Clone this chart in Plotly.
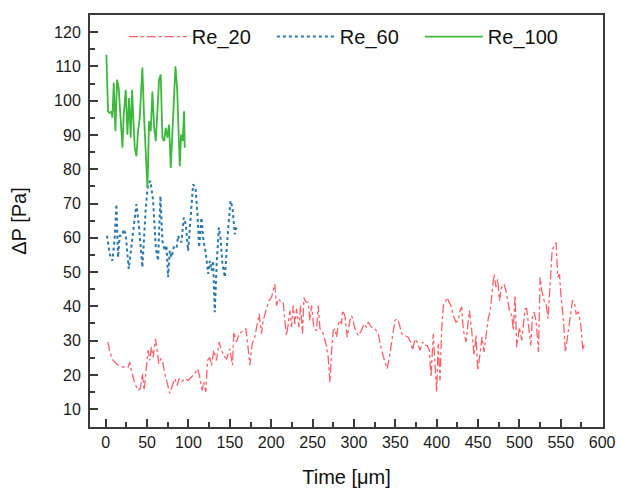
import plotly.graph_objects as go

# ---- Re_20 ----
re20_x = [2.8, 4.8, 8.9, 14.9, 21.0, 27.0, 29.0, 31.0, 35.1, 39.1, 41.9, 44.3, 46.4, 48.4, 51.2, 53.2,
          55.2, 57.3, 60.1, 62.1, 64.1, 66.5, 68.5, 71.4, 74.6, 77.4, 80.6, 83.5, 86.3, 88.7, 91.5, 95.5,
          99.6, 103.6, 107.6, 110.9, 113.7, 116.5, 118.5, 121.0, 123.0, 125.8, 127.8, 130.6, 133.9, 137.1,
          139.9, 144.0,
          146.0, 150.0, 153.2, 154.8, 158.1, 161.3, 164.1, 169.4, 172.2, 174.2, 177.0, 180.2, 183.1, 185.5,
          188.3, 190.3, 194.3, 197.2, 200.4, 202.4, 204.4, 206.4, 208.5, 211.7, 214.5, 216.5, 218.5, 220.6,
          222.6, 224.6, 226.6, 228.6, 230.6, 233.5, 235.5, 237.9, 239.5, 241.9, 244.7, 246.8, 248.8, 251.6,
          254.8, 256.8, 258.9, 262.9, 266.1, 268.9, 271.0, 273.0, 275.0, 277.0, 279.0, 281.8, 285.1,
          286.2, 289.0, 291.9, 295.1, 297.1, 299.1, 301.1, 305.2, 309.2, 312.0, 315.3, 317.3, 321.3, 325.3,
          329.4, 333.4, 337.4, 340.3, 343.5, 346.7, 349.5, 352.4, 354.8, 357.6, 361.6, 365.7, 368.5, 370.9,
          373.7, 376.5, 379.8, 383.0, 385.8, 388.6, 391.1, 393.1, 395.9, 397.9, 399.9, 401.9, 404.0, 406.0,
          408.0, 411.2, 412.8, 414.8, 417.3, 420.1, 423.3, 426.1,
          428.2, 430.2, 432.2, 435.5, 439.5, 442.3, 445.1, 447.6, 449.6, 452.4, 454.8, 457.2, 459.7, 462.5,
          464.5, 467.3, 469.3, 471.7, 473.8, 475.8, 478.6, 481.4, 484.6, 487.9, 490.7, 492.7, 494.7, 496.7,
          500.0, 502.8, 506.8, 508.8, 511.7, 513.7, 515.7, 517.7, 520.1, 523.0, 525.0, 527.0, 529.8, 532.2,
          534.6, 537.1, 539.5, 541.9, 544.3, 546.3, 548.4, 550.4, 553.2, 555.6, 558.0, 561.3, 564.1, 566.5,
          568.5, 571.4, 574.2, 576.6, 578.6]
re20_y = [29.6, 26.7, 24.2, 22.8, 22.3, 22.3, 23.8, 21.3, 17.5, 15.5, 16.0, 20.4, 15.5, 21.3, 27.2, 24.2,
          28.1, 25.1, 30.5, 27.2, 23.3, 24.7, 24.2, 20.4, 17.5, 14.6, 16.9, 18.9, 16.9, 18.9, 18.0, 18.9,
          18.4, 19.4, 20.4, 21.8, 19.4, 15.5, 18.0, 15.0, 24.2, 25.1, 22.8, 27.2, 24.2, 29.6,
          27.2, 25.1,
          24.7, 27.6, 22.8, 32.5, 29.6, 32.0, 32.5, 33.5, 27.6, 22.8, 29.1, 31.0, 34.9, 37.8,
          32.0, 35.9, 39.3, 41.7, 42.6, 44.6, 46.5, 40.2, 42.2, 41.3, 41.3, 35.9, 31.5, 34.9,
          38.8, 33.9, 40.2, 34.9, 39.3, 33.9, 40.2, 32.0, 42.6, 41.3, 41.2, 35.9, 40.2, 33.5,
          33.0, 40.2, 33.5, 32.0, 29.1, 25.2, 17.9, 27.2, 33.0, 33.5, 31.0, 35.9, 34.9,
          38.8, 37.3, 31.0, 35.9, 37.3, 35.9, 33.5, 31.5, 33.0, 34.9, 33.9, 35.4, 33.9, 33.5,
          32.0, 27.2, 23.8, 21.8, 26.2, 32.0, 35.9, 36.4, 34.9, 32.0, 31.5, 31.0, 29.6, 27.2,
          30.5, 29.6, 27.2, 29.6, 28.6, 28.6, 27.2, 19.4, 32.0, 23.3, 15.0, 29.1, 18.4, 33.0,
          40.2, 41.7, 42.6, 41.3, 40.2, 37.3, 35.4, 35.9,
          38.8, 39.8, 33.0, 29.6, 38.8, 33.0, 25.7, 31.5, 21.3, 26.2, 31.0, 26.7, 32.0, 36.8,
          38.3, 44.6, 49.4, 45.6, 47.9, 41.7, 45.6, 46.5, 43.6, 38.8, 37.3, 33.0, 43.2, 28.1,
          33.9, 30.1, 39.3, 39.3, 32.0, 28.6, 36.8, 38.3, 35.9, 26.7, 48.5, 44.6, 41.7, 40.7,
          36.4, 46.5, 56.2, 57.7, 58.6, 48.5, 49.4, 42.6, 35.9, 26.7, 31.0, 35.9, 41.7, 41.2,
          37.8, 38.3, 34.4, 27.2, 29.1]

# ---- Re_60 ----
re60_x = [1.6, 4.8, 8.1, 10.9, 12.9, 14.9, 16.9, 19.7, 21.8, 24.2, 27.8, 31.0, 34.3, 37.1, 40.3, 44.3,
          48.4, 51.2, 54.0, 57.3, 60.5, 63.3, 66.1, 68.5, 71.4, 73.4, 75.4, 77.4, 79.4, 82.2, 85.5, 87.5,
          89.5, 91.5, 94.3, 96.8, 99.6, 102.4, 105.6, 108.5, 110.9, 112.9, 115.7, 117.7, 121.0, 123.8,
          125.8, 127.8, 129.8, 131.8, 133.9, 136.7, 138.7, 141.1, 144.0, 147.2, 150.8, 153.2, 156.0, 158.0]
re60_y = [60.6, 55.3, 53.3, 60.1, 69.8, 54.3, 60.6, 60.6, 62.5, 61.0, 50.9, 57.2, 64.9, 69.8, 63.0, 51.4,
          68.8, 75.6, 76.6, 70.8, 57.2, 53.3, 72.2, 59.1, 56.2, 57.8, 48.5, 56.2, 54.3, 57.2, 56.8, 60.6,
          59.1, 58.7, 65.9, 63.9, 56.2, 64.9, 75.6, 74.6, 66.9, 57.2, 65.9, 60.1, 55.3, 49.5,
          53.3, 50.4, 53.3, 38.3, 51.4, 63.0, 60.1, 52.3, 48.5, 60.1, 70.8, 68.8, 61.0, 63.0]

# ---- Re_100 ----
re100_x = [0.8, 2.8, 4.8, 6.9, 8.1, 9.7, 11.7, 13.7, 15.7, 18.1, 20.2, 21.8, 24.2, 26.2, 28.2, 30.2,
           31.9, 33.1, 35.1, 37.1, 39.1, 41.1, 44.3, 46.4, 48.4, 50.4, 52.4, 54.4, 56.4, 58.5, 60.5, 62.5,
           64.5, 66.5, 68.5, 70.6, 72.6, 74.6, 76.6, 78.6, 80.6, 82.7, 84.3, 86.3, 87.9, 89.5, 91.1, 93.1,
           94.7, 95.5]
re100_y = [113.4, 96.9, 96.4, 96.9, 95.0, 105.2, 91.1, 106.1, 103.7, 93.0, 86.3, 96.0, 103.2, 90.1, 100.8,
           89.2, 103.2, 96.0, 86.3, 83.8, 91.1, 95.0, 109.7, 95.0, 86.3, 74.6, 94.0, 91.1, 102.7, 92.1, 88.2,
           97.9, 106.1, 107.6, 89.2, 88.2, 92.1, 89.2, 93.0, 80.4, 90.1, 103.7, 110.0, 103.5, 93.0, 80.9,
           90.1, 88.2, 96.9, 86.3]

series_names = ["Re_20", "Re_60", "Re_100"]
x_ticks = [0, 50, 100, 150, 200, 250, 300, 350, 400, 450, 500, 550, 600]
y_ticks = [10, 20, 30, 40, 50, 60, 70, 80, 90, 100, 110, 120]

FONT = "Liberation Sans, Arial"

fig = go.Figure()
fig.add_trace(go.Scatter(x=re20_x, y=re20_y, mode="lines", name=series_names[0],
                         line=dict(color="rgb(255,95,105)", width=1.3, dash="dashdot")))
fig.add_trace(go.Scatter(x=re60_x, y=re60_y, mode="lines", name=series_names[1],
                         line=dict(color="rgb(40,120,170)", width=2, dash="dot")))
fig.add_trace(go.Scatter(x=re100_x, y=re100_y, mode="lines", name=series_names[2],
                         line=dict(color="rgb(60,185,60)", width=1.8)))

axis_common = dict(showline=True, linecolor="#3a3a3a", linewidth=2, mirror=True,
                   ticks="inside", ticklen=8, tickwidth=2, tickcolor="#3a3a3a",
                   showgrid=False, zeroline=False, automargin=False,
                   ticklabeloverflow="allow",
                   tickfont=dict(family=FONT, size=16, color="#1a1a1a"))

fig.update_xaxes(range=[-19, 601], tickvals=x_ticks,
                 minor=dict(ticks="inside", ticklen=5, tickwidth=2, tickcolor="#3a3a3a", dtick=25, tick0=0),
                 title=dict(text="Time [μm]", font=dict(family=FONT, size=20, color="#111"),
                            standoff=20),
                 **axis_common)
fig.update_yaxes(range=[4.8, 125], tickvals=y_ticks,
                 minor=dict(ticks="inside", ticklen=5, tickwidth=2, tickcolor="#3a3a3a", dtick=5, tick0=0),
                 title=dict(text="ΔP [Pa]", font=dict(family=FONT, size=20, color="#111"),
                            standoff=22),
                 ticklabelstandoff=4,
                 **axis_common)

fig.update_layout(
    width=617, height=488,
    margin=dict(l=90, r=14, t=15, b=61),
    plot_bgcolor="white", paper_bgcolor="white",
    legend=dict(orientation="h", x=0.066, y=0.995, xanchor="left", yanchor="top",
                bgcolor="rgba(0,0,0,0)", entrywidth=75, itemwidth=58,
                font=dict(family=FONT, size=20, color="#111")),
)

# remove the default page margin so the 617x488 figure fills the window exactly
fig.write_html("out.html",
               config={"displayModeBar": False},
               post_script="document.body.style.margin='0';document.body.style.overflow='hidden';")
